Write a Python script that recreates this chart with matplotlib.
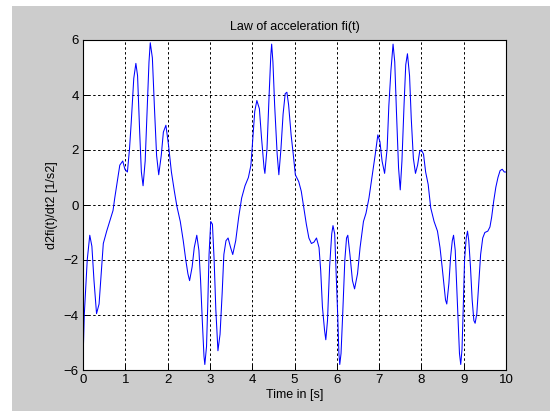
import matplotlib
matplotlib.use("Agg")
import matplotlib.pyplot as plt
from matplotlib.patches import Rectangle

t = [0.0, 0.03, 0.1, 0.16, 0.21, 0.26, 0.32, 0.38, 0.44, 0.48, 0.56, 0.63, 0.71, 0.75, 0.81, 0.87,
     0.94, 0.99, 1.05, 1.1, 1.14, 1.2, 1.25, 1.29, 1.34, 1.38, 1.42, 1.47, 1.52, 1.56, 1.59, 1.64,
     1.69, 1.74, 1.79, 1.85, 1.9, 1.96, 2.02, 2.09, 2.16, 2.22, 2.3, 2.37, 2.43, 2.48, 2.52, 2.58,
     2.63, 2.69, 2.74, 2.78, 2.82, 2.86, 2.88, 2.92, 2.95, 2.98, 3.02, 3.06, 3.1, 3.14, 3.19, 3.24,
     3.29, 3.33, 3.38, 3.43, 3.49, 3.54, 3.61, 3.68, 3.75, 3.83, 3.91, 3.97, 4.01, 4.06, 4.11, 4.17,
     4.22, 4.28, 4.3, 4.35, 4.4, 4.44, 4.46, 4.49, 4.53, 4.59, 4.63, 4.68, 4.73, 4.78, 4.82, 4.86,
     4.92, 4.97, 5.02, 5.1, 5.16, 5.22, 5.28, 5.34, 5.4, 5.46, 5.52, 5.58, 5.62, 5.66, 5.71, 5.74,
     5.78, 5.83, 5.88, 5.91, 5.95, 5.98, 6.02, 6.05, 6.07, 6.1, 6.14, 6.19, 6.23, 6.26, 6.31, 6.37,
     6.42, 6.49, 6.55, 6.63, 6.69, 6.76, 6.84, 6.91, 6.97, 7.02, 7.07, 7.13, 7.19, 7.23, 7.28, 7.33,
     7.37, 7.41, 7.46, 7.5, 7.54, 7.59, 7.63, 7.67, 7.72, 7.76, 7.81, 7.86, 7.91, 7.96, 8.0, 8.05,
     8.1, 8.16, 8.22, 8.3, 8.38, 8.44, 8.49, 8.54, 8.57, 8.6, 8.65, 8.69, 8.73, 8.76, 8.8, 8.83,
     8.87, 8.9, 8.93, 8.96, 8.99, 9.02, 9.06, 9.09, 9.12, 9.16, 9.2, 9.24, 9.27, 9.31, 9.35, 9.4,
     9.45, 9.5, 9.57, 9.62, 9.66, 9.71, 9.76, 9.81, 9.86, 9.91, 9.96, 10.0]

acc = [-5.7, -4.0, -2.0, -1.1, -1.5, -2.75, -3.95, -3.6, -2.25, -1.4, -0.95, -0.6, -0.2, 0.25, 0.85, 1.45,
       1.6, 1.3, 1.2, 2.05, 3.0, 4.6, 5.15, 4.7, 2.65, 1.2, 0.7, 1.6, 3.65, 5.2, 5.9, 5.35,
       3.5, 1.8, 1.1, 1.8, 2.65, 2.9, 2.2, 1.2, 0.5, -0.05, -0.6, -1.3, -2.0, -2.5, -2.75, -2.25,
       -1.55, -1.1, -1.65, -2.75, -4.2, -5.5, -5.8, -5.15, -3.6, -1.8, -0.6, -0.7, -2.0, -3.8, -5.3, -4.7,
       -3.2, -1.8, -1.3, -1.2, -1.55, -1.8, -1.3, -0.45, 0.25, 0.7, 1.0, 1.45, 2.3, 3.4, 3.8, 3.5,
       2.45, 1.35, 1.15, 2.05, 4.0, 5.45, 5.85, 5.2, 3.65, 1.85, 1.1, 2.05, 3.3, 4.05, 4.1, 3.65,
       2.55, 1.85, 1.1, 0.85, 0.5, -0.1, -0.7, -1.2, -1.4, -1.35, -1.2, -1.55, -2.4, -3.7, -4.55, -4.9,
       -4.2, -2.25, -1.05, -0.75, -1.05, -2.25, -3.95, -5.4, -5.8, -5.4, -3.95, -2.0, -1.2, -1.1, -1.8, -2.75,
       -3.05, -2.5, -1.55, -0.6, -0.3, 0.25, 1.1, 1.85, 2.55, 2.3, 1.6, 1.15, 2.05, 3.6, 4.9, 5.85,
       5.2, 3.4, 1.35, 0.55, 1.6, 3.65, 5.1, 5.5, 4.7, 3.15, 1.7, 1.15, 1.45, 1.95, 2.0, 1.85,
       1.2, 0.75, -0.1, -0.6, -0.95, -1.55, -2.25, -3.0, -3.45, -3.6, -2.85, -1.9, -1.3, -1.1, -1.65, -2.75,
       -4.2, -5.4, -5.8, -5.25, -3.7, -2.0, -1.2, -0.95, -1.3, -2.25, -3.45, -4.2, -4.3, -3.95, -3.0, -1.8,
       -1.2, -1.0, -0.95, -0.8, -0.45, 0.15, 0.65, 1.0, 1.25, 1.3, 1.2, 1.2]

xticks = [0, 1, 2, 3, 4, 5, 6, 7, 8, 9, 10]
yticks = [-6, -4, -2, 0, 2, 4, 6]
title = "Law of acceleration fi(t)"
xlabel = "Time in [s]"
ylabel = "d2fi(t)/dt2 [1/s2]"

plt.rcParams['font.family'] = ['Liberation Sans', 'DejaVu Sans']

W, H = 550, 411
fig = plt.figure(figsize=(W / 100, H / 100), dpi=100, facecolor='white')
# gray figure area with thin white strip at top-left
fig.patches.append(Rectangle((12 / W, 0), 1 - 12 / W, 1 - 6 / H, transform=fig.transFigure,
                             facecolor='#cccccc', edgecolor='none', zorder=-10))

left, right, top, bottom = 83, 506, 40, 370
ax = fig.add_axes([left / W, (H - bottom) / H, (right - left) / W, (bottom - top) / H])
ax.set_facecolor('white')
ax.plot(t, acc, color='#0000ff', linewidth=0.75)
ax.set_xlim(0, 10)
ax.set_ylim(-6, 6)
ax.set_xticks(xticks)
ax.set_yticks(yticks)
ax.grid(True, color='black', linestyle=(0, (2.5, 2.5)), linewidth=0.7)
ax.tick_params(direction='in', length=4, width=0.7, labelsize=9.5, colors='black', pad=3)
for s in ax.spines.values():
    s.set_linewidth(0.8)
ax.set_title(title, fontsize=9, pad=7)
ax.set_xlabel(xlabel, fontsize=9, labelpad=2)
ax.set_ylabel(ylabel, fontsize=9, labelpad=4)

fig.savefig("out.png", dpi=100, facecolor=fig.get_facecolor())
